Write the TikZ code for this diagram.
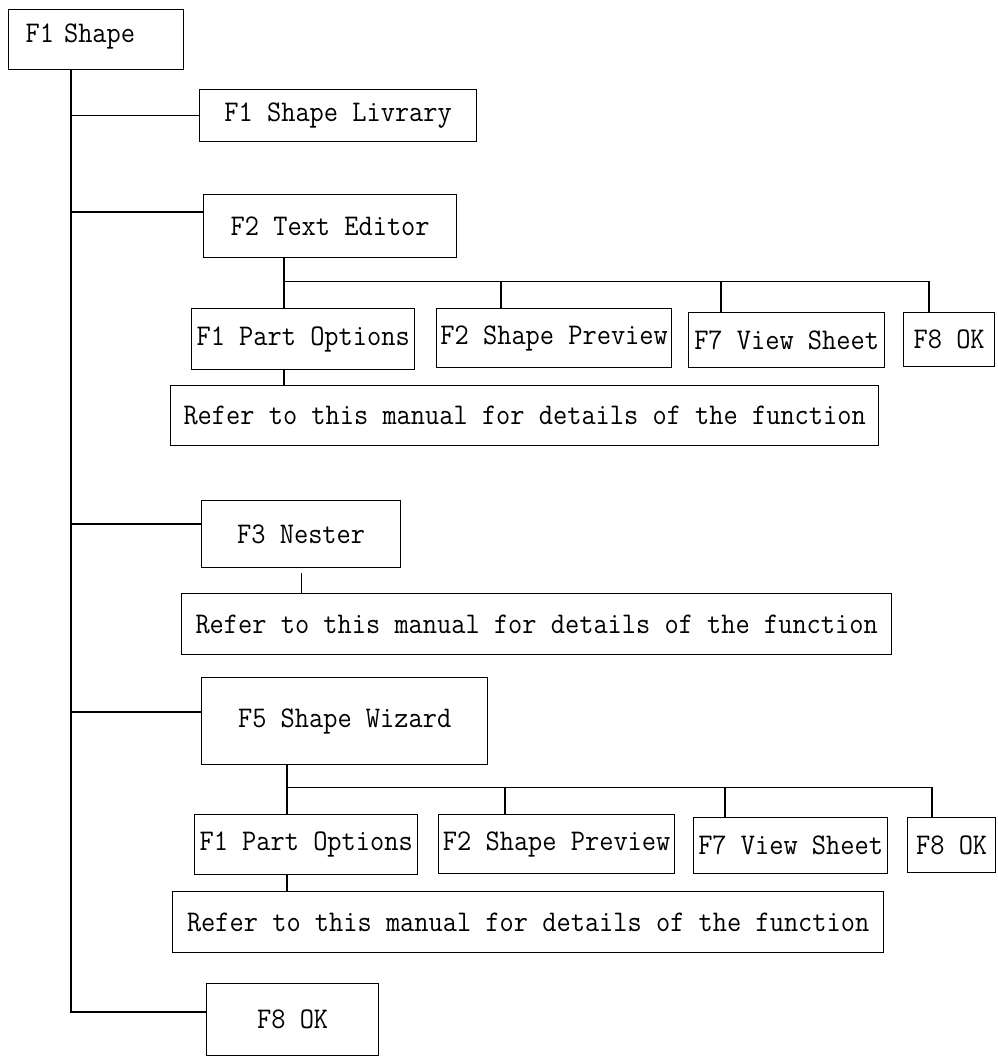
\documentclass[tikz,border=0pt]{standalone}
\usepackage{fontspec}
\setmonofont[FakeStretch=0.92]{Latin Modern Mono}
\usetikzlibrary{calc}
\begin{document}
\begin{tikzpicture}[x=1pt,y=-1pt,
  box/.style={draw, line width=1.3pt, inner sep=0pt, anchor=north west,
    font=\ttfamily\fontsize{30}{32}\selectfont},
  sz/.style 2 args={minimum width=#1pt, minimum height=#2pt},
  wire/.style={line width=1.3pt}]
\useasboundingbox (0,0) rectangle (997,1059);

% menu boxes
\node[box, sz={175}{60}, text width=141pt, inner xsep=17pt, align=left,
      text height=18pt, text depth=12pt] (root) at (8,9) {F1 Shape};
\node[box, sz={277}{52}] (lib)  at (199,89)  {F1 Shape Livrary};
\node[box, sz={253}{63}] (te)   at (203,194) {F2 Text Editor};
\node[box, sz={223}{61}] (po1)  at (191,308) {F1 Part Options};
\node[box, sz={235}{59}] (sp1)  at (436,308) {F2 Shape Preview};
\node[box, sz={196}{55}] (vs1)  at (688,312) {F7 View Sheet};
\node[box, sz={91}{54}]  (ok1)  at (903,312) {F8 OK};
\node[box, sz={708}{60}] (ref1) at (170,385) {Refer to this manual for details of the function};
\node[box, sz={199}{67}] (nest) at (201,500) {F3 Nester};
\node[box, sz={710}{61}] (ref2) at (181,593) {Refer to this manual for details of the function};
\node[box, sz={286}{87}] (wiz)  at (201,677) {F5 Shape Wizard};
\node[box, sz={223}{60}] (po2)  at (194,814) {F1 Part Options};
\node[box, sz={236}{59}] (sp2)  at (438,814) {F2 Shape Preview};
\node[box, sz={194}{56}] (vs2)  at (693,817) {F7 View Sheet};
\node[box, sz={88}{55}]  (ok2)  at (907,817) {F8 OK};
\node[box, sz={711}{61}] (ref3) at (172,891) {Refer to this manual for details of the function};
\node[box, sz={172}{72}] (ok)   at (206,983) {F8 OK};

% main trunk and its branches
\coordinate (tk) at (71,0);
\coordinate (teIn)   at ($(te.north west)+(0,18)$);
\coordinate (nestIn) at ($(nest.north west)+(0,24)$);
\coordinate (wizIn)  at ($(wiz.north west)+(0,35)$);
\coordinate (okIn)   at ($(ok.north west)+(0,29)$);
\draw[wire] (root.south -| tk) |- (okIn);
\draw[wire] (tk |- lib.west) -- (lib.west);
\draw[wire] (tk |- teIn) -- (teIn);
\draw[wire] (tk |- nestIn) -- (nestIn);
\draw[wire] (tk |- wizIn) -- (wizIn);

% text editor sub-menu
\coordinate (bus1) at ($(te.south west)+(81,23)$);
\coordinate (d12) at ($(sp1.north west)+(65,0)$);
\coordinate (d13) at ($(vs1.north west)+(33,0)$);
\coordinate (d14) at ($(ok1.north west)+(26,0)$);
\draw[wire] (te.south -| bus1) -- (bus1 |- po1.north);
\draw[wire] (bus1) -| (d14);
\draw[wire] (d12 |- bus1) -- (d12);
\draw[wire] (d13 |- bus1) -- (d13);
\draw[wire] (po1.south -| bus1) -- (ref1.north -| bus1);

% nester
\draw[wire, shorten <=5pt] (nest.south) -- (nest.south |- ref2.north);

% shape wizard sub-menu
\coordinate (bus2) at ($(wiz.south west)+(86,22)$);
\coordinate (d22) at ($(sp2.north west)+(67,0)$);
\coordinate (d23) at ($(vs2.north west)+(32,0)$);
\coordinate (d24) at ($(ok2.north west)+(25,0)$);
\draw[wire] (wiz.south -| bus2) -- (bus2 |- po2.north);
\draw[wire] (bus2) -| (d24);
\draw[wire] (d22 |- bus2) -- (d22);
\draw[wire] (d23 |- bus2) -- (d23);
\draw[wire] (po2.south -| bus2) -- (ref3.north -| bus2);
\end{tikzpicture}
\end{document}
